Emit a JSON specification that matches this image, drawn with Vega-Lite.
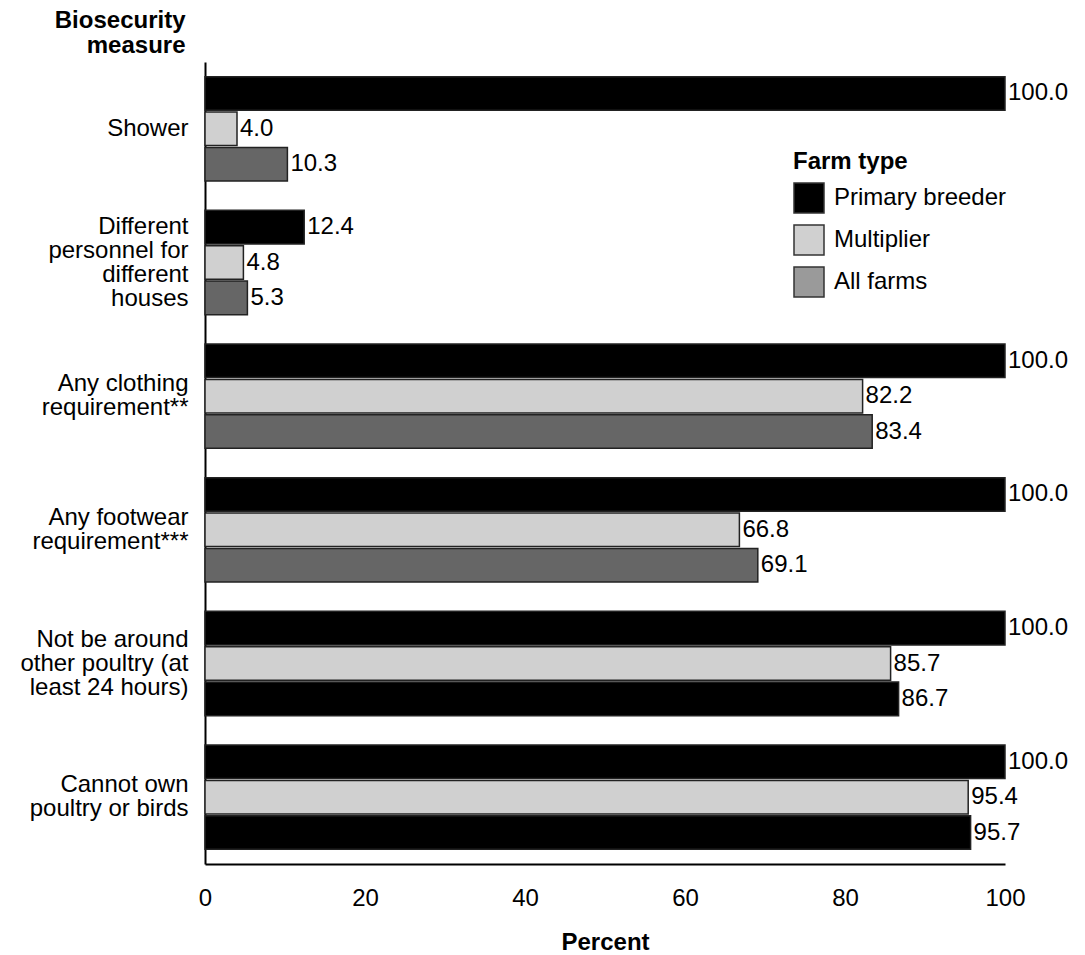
{
  "$schema": "https://vega.github.io/schema/vega-lite/v6.json",
  "autosize": {"type": "none"},
  "width": 800,
  "height": 802,
  "padding": {"left": 205, "top": 62, "right": 80, "bottom": 91},
  "background": "white",
  "config": {
    "font": "Liberation Sans",
    "view": {"stroke": null}
  },
  "data": {
    "values": [
      {"measure": "Shower", "type": "Primary breeder", "value": 100.0},
      {"measure": "Shower", "type": "Multiplier", "value": 4.0},
      {"measure": "Shower", "type": "All farms", "value": 10.3},
      {"measure": "Different personnel for different houses", "type": "Primary breeder", "value": 12.4},
      {"measure": "Different personnel for different houses", "type": "Multiplier", "value": 4.8},
      {"measure": "Different personnel for different houses", "type": "All farms", "value": 5.3},
      {"measure": "Any clothing requirement**", "type": "Primary breeder", "value": 100.0},
      {"measure": "Any clothing requirement**", "type": "Multiplier", "value": 82.2},
      {"measure": "Any clothing requirement**", "type": "All farms", "value": 83.4},
      {"measure": "Any footwear requirement***", "type": "Primary breeder", "value": 100.0},
      {"measure": "Any footwear requirement***", "type": "Multiplier", "value": 66.8},
      {"measure": "Any footwear requirement***", "type": "All farms", "value": 69.1},
      {"measure": "Not be around other poultry (at least 24 hours)", "type": "Primary breeder", "value": 100.0},
      {"measure": "Not be around other poultry (at least 24 hours)", "type": "Multiplier", "value": 85.7},
      {"measure": "Not be around other poultry (at least 24 hours)", "type": "All farms", "value": 86.7},
      {"measure": "Cannot own poultry or birds", "type": "Primary breeder", "value": 100.0},
      {"measure": "Cannot own poultry or birds", "type": "Multiplier", "value": 95.4},
      {"measure": "Cannot own poultry or birds", "type": "All farms", "value": 95.7}
    ]
  },
  "encoding": {
    "y": {
      "field": "measure",
      "type": "nominal",
      "sort": null,
      "scale": {"paddingInner": 0.22, "paddingOuter": 0.11},
      "axis": {
        "title": ["Biosecurity", "measure"],
        "titleAngle": 0,
        "titleAlign": "right",
        "titleBaseline": "bottom",
        "titleX": -20,
        "titleY": -30,
        "titleFontSize": 24,
        "titleFontWeight": "bold",
        "titleLineHeight": 25,
        "titleColor": "black",
        "labelFontSize": 24,
        "labelColor": "black",
        "labelLineHeight": 24,
        "labelPadding": 17,
        "labelLimit": 300,
        "labelOffset": {
          "condition": [
            {"test": "datum.value === 'Different personnel for different houses'", "value": -36},
            {"test": "datum.value === 'Not be around other poultry (at least 24 hours)'", "value": -24},
            {"test": "datum.value === 'Shower'", "value": 0}
          ],
          "value": -12
        },
        "ticks": false,
        "domainColor": "black",
        "domainWidth": 2,
        "labelExpr": "datum.value === 'Different personnel for different houses' ? ['Different', 'personnel for', 'different', 'houses'] : datum.value === 'Any clothing requirement**' ? ['Any clothing', 'requirement**'] : datum.value === 'Any footwear requirement***' ? ['Any footwear', 'requirement***'] : datum.value === 'Not be around other poultry (at least 24 hours)' ? ['Not be around', 'other poultry (at', 'least 24 hours)'] : datum.value === 'Cannot own poultry or birds' ? ['Cannot own', 'poultry or birds'] : datum.value"
      }
    },
    "yOffset": {
      "field": "type",
      "type": "nominal",
      "scale": {"domain": ["Primary breeder", "Multiplier", "All farms"], "paddingInner": 0.05}
    },
    "x": {
      "field": "value",
      "type": "quantitative",
      "scale": {"domain": [0, 100], "nice": false},
      "axis": {
        "title": "Percent",
        "titleFontSize": 24,
        "titleFontWeight": "bold",
        "titleColor": "black",
        "titlePadding": 20,
        "values": [0, 20, 40, 60, 80, 100],
        "labelFontSize": 24,
        "labelColor": "black",
        "labelPadding": 22,
        "labelFlush": false,
        "ticks": false,
        "grid": false,
        "domainColor": "black",
        "domainWidth": 2
      }
    }
  },
  "layer": [
    {
      "mark": {"type": "bar", "stroke": "#222222", "strokeWidth": 1.5},
      "encoding": {
        "fill": {
          "field": "type",
          "type": "nominal",
          "scale": {"domain": ["Primary breeder", "Multiplier", "All farms"], "range": ["#000000", "#d0d0d0", "#9a9a9a"]},
          "legend": {
            "title": "Farm type",
            "orient": "none",
            "legendX": 588,
            "legendY": 88,
            "titleFontSize": 24,
            "titleFontWeight": "bold",
            "titleColor": "black",
            "titlePadding": 8,
            "labelFontSize": 24,
            "labelColor": "black",
            "labelOffset": 9,
            "labelLimit": 300,
            "symbolType": "square",
            "symbolSize": 900,
            "symbolStrokeColor": "#333333",
            "symbolStrokeWidth": 1.5,
            "rowPadding": 6
          },
          "condition": [
            {"test": "datum.type === 'All farms' && (datum.measure === 'Not be around other poultry (at least 24 hours)' || datum.measure === 'Cannot own poultry or birds')", "value": "#000000"},
            {"test": "datum.type === 'All farms'", "value": "#666666"}
          ]
        }
      }
    },
    {
      "mark": {"type": "text", "align": "left", "baseline": "middle", "dx": 3, "fontSize": 24, "color": "black"},
      "encoding": {
        "text": {"field": "value", "type": "quantitative", "format": ".1f"}
      }
    }
  ]
}
